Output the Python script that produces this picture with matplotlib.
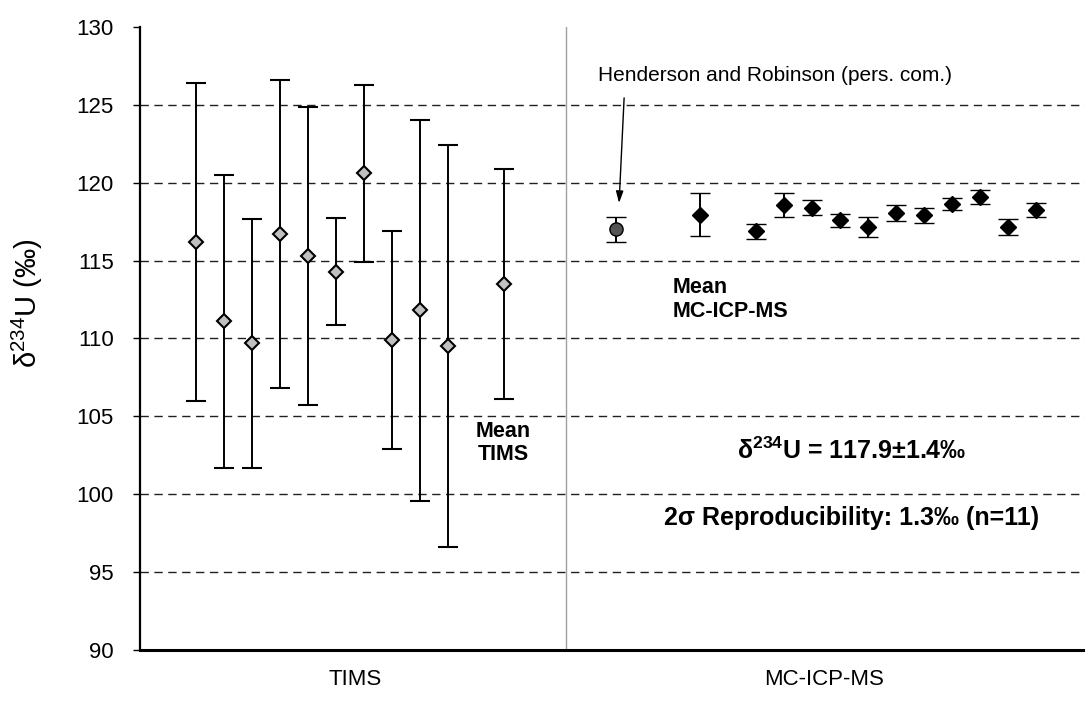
import matplotlib
matplotlib.use("Agg")
import matplotlib.pyplot as plt

plt.rcParams['font.family'] = ['Liberation Sans', 'DejaVu Sans']
plt.rcParams['mathtext.default'] = 'regular'

# TIMS replicates (position on the x axis, value, 2 sigma)
tims_x = [2, 3, 4, 5, 6, 7, 8, 9, 10, 11]
tims_val = [116.2, 111.1, 109.7, 116.7, 115.3, 114.3, 120.6, 109.9, 111.8, 109.5]
tims_err = [10.2, 9.4, 8.0, 9.9, 9.55, 3.45, 5.7, 7.0, 12.25, 12.9]
tims_mean_x = 13
tims_mean = 113.5
tims_mean_err = 7.4

# Henderson and Robinson value
hr_x = 17
hr_val = 117.0
hr_err = 0.83

# MC-ICP-MS mean and replicates
mc_mean_x = 20
mc_mean = 117.95
mc_mean_err = 1.4
mc_x = [22, 23, 24, 25, 26, 27, 28, 29, 30, 31, 32]
mc_val = [116.9, 118.55, 118.4, 117.6, 117.15, 118.05, 117.9, 118.65, 119.1, 117.15, 118.25]
mc_err = [0.48, 0.77, 0.5, 0.41, 0.63, 0.53, 0.5, 0.37, 0.44, 0.53, 0.42]

group_names = ['TIMS', 'MC-ICP-MS']
group_pos = [7.7, 24.43]
split_x = 15.2
y_ticks = [90, 95, 100, 105, 110, 115, 120, 125, 130]

fig = plt.figure(figsize=(10.85, 7.11), dpi=100)
ax = fig.add_axes([140 / 1085, 61 / 711, 945 / 1085, 623 / 711])
ax.set_xlim(0, 33.75)
ax.set_ylim(90, 130)

for y in y_ticks[1:-1]:
    ax.axhline(y, color='#202020', lw=1, ls=(0, (6, 4)), zorder=1)
ax.axvline(split_x, color='#a0a0a0', lw=1, zorder=1)

eb = dict(ecolor='k', elinewidth=1.4, capsize=7, capthick=1.4, ls='none', zorder=3)
ax.errorbar(tims_x + [tims_mean_x], tims_val + [tims_mean], yerr=tims_err + [tims_mean_err],
            fmt='D', ms=7.5, mfc='#c0c0c0', mec='k', mew=1.5, **eb)
ax.errorbar([hr_x], [hr_val], yerr=[hr_err], fmt='o', ms=9.5, mfc='#555555', mec='k', mew=1, **eb)
ax.errorbar([mc_mean_x] + mc_x, [mc_mean] + mc_val, yerr=[mc_mean_err] + mc_err,
            fmt='D', ms=8, mfc='k', mec='k', mew=1, **eb)

ax.text(16.36, 126.9, 'Henderson and Robinson (pers. com.)', fontsize=15, va='center', ha='left')
ax.annotate('', xy=(17.11, 118.7), xytext=(17.29, 125.45),
            arrowprops=dict(arrowstyle='-|>,head_width=0.22,head_length=0.7', color='k', lw=1,
                            shrinkA=0, shrinkB=0))

ax.text(19.04, 112.5, 'Mean\nMC-ICP-MS', fontsize=15.5, fontweight='bold', ha='left', va='center',
        linespacing=1.15)
ax.text(12.96, 103.3, 'Mean\nTIMS', fontsize=15.5, fontweight='bold', ha='center', va='center',
        linespacing=1.15)
ax.text(25.4, 102.8, 'δ$^{234}$U = 117.9±1.4‰', fontsize=18, fontweight='bold', ha='center', va='center')
ax.text(25.4, 98.5, '2σ Reproducibility: 1.3‰ (n=11)', fontsize=18, fontweight='bold',
        ha='center', va='center')

ax.set_yticks(y_ticks)
ax.set_yticklabels([str(t) for t in y_ticks], fontsize=16)
ax.tick_params(axis='y', direction='out', length=5, width=1, pad=14)
ax.set_xticks(group_pos)
ax.set_xticklabels(group_names, fontsize=16)
ax.tick_params(axis='x', length=0, pad=14)

ax.set_ylabel('δ$^{234}$U (‰)', fontsize=21)
ax.yaxis.set_label_coords(-95 / 945, 0.557)

ax.spines['top'].set_visible(False)
ax.spines['right'].set_visible(False)
ax.spines['left'].set_linewidth(1.6)
ax.spines['bottom'].set_linewidth(2.2)

fig.savefig('out.png', dpi=100)
